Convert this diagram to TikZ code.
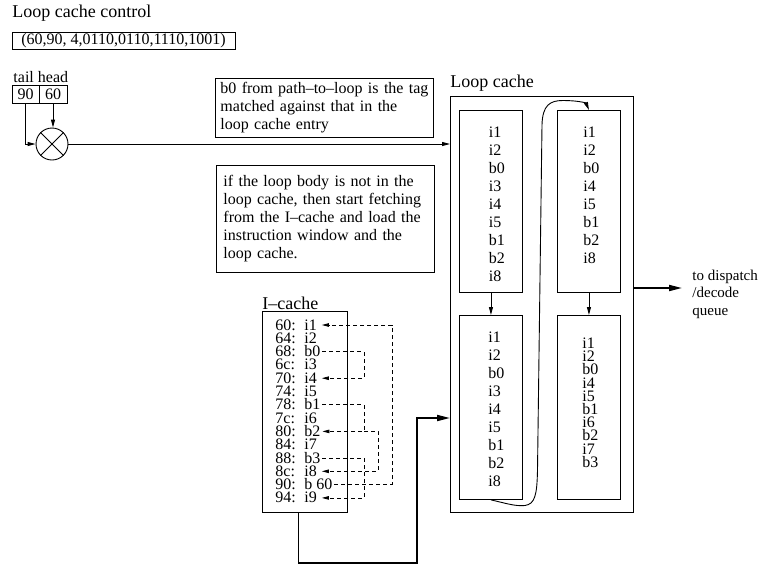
\documentclass[tikz,border=0pt]{standalone}
\usepackage{fontspec}
\setmainfont{Liberation Serif}
\usetikzlibrary{arrows.meta}

\begin{document}
\begin{tikzpicture}[x=1pt,y=-1pt,line width=.9pt,
    font=\fontsize{16}{18}\selectfont,
    lbl/.style={font=\fontsize{18}{20}\selectfont,anchor=west,inner sep=0},
    cell/.style={draw,inner sep=0},
    entry/.style={anchor=north west,align=left,inner sep=0},
    addr/.style={anchor=west,inner sep=0},
    row/.style={addr,text height=10pt,text depth=0pt},
    tip/.style={-{Triangle[length=8pt,width=4pt]}},
    jump/.style={dash pattern=on 4pt off 3pt,line width=.8pt,-{Triangle[length=7pt,width=3.5pt]}},
    bus/.style={line width=1.8pt,-{Triangle[length=13pt,width=6pt]}}]
  \useasboundingbox (0,0) rectangle (763,565);

  % loop cache control
  \node[lbl] (ctltxt) at (12,13) {Loop cache control};
  \node[cell,minimum width=223,minimum height=17] (ctl) at (123.5,40.5) {(60,90, 4,0110,0110,1110,1001)};

  % tail/head and comparator
  \node[addr] (th) at (13,77) {tail head};
  \node[cell,minimum width=27,minimum height=18] (tail) at (25.5,94) {90};
  \node[cell,minimum width=28,minimum height=18] (head) at (53,94) {60};
  \node[draw,circle,minimum size=32,inner sep=0] (cmp) at (52,144) {};
  \draw (cmp.north west) -- (cmp.south east) (cmp.north east) -- (cmp.south west);
  \draw[tip] (head.south) -- (head.south |- cmp.north);
  \draw[tip] (tail.south) |- (cmp.west);

  % notes
  \node[cell,anchor=north west,text width=208,inner xsep=5,minimum height=59,align=left] (note1) at (215,78)
    {b0 from path--to--loop is the tag\\ matched against that in the\\ loop cache entry};
  \node[cell,anchor=north west,text width=204,inner xsep=7,minimum height=107,align=left] (note2) at (216,165)
    {if the loop body is not in the\\ loop cache, then start fetching\\ from the I--cache and load the\\ instruction window and the\\ loop cache.};

  % loop cache
  \node[lbl] (lctxt) at (450,83) {Loop cache};
  \node[cell,anchor=north west,minimum width=183,minimum height=416] (lc) at (450,96) {};
  \node[cell,anchor=north west,minimum width=63,minimum height=182] (ul) at (459,110) {};
  \node[cell,anchor=north west,minimum width=63,minimum height=182] (ur) at (557,110) {};
  \node[cell,anchor=north west,minimum width=63,minimum height=184] (ll) at (459,315) {};
  \node[cell,anchor=north west,minimum width=63,minimum height=184] (lr) at (557,315) {};
  \node[entry] (ulbody) at ([xshift=-2.5,yshift=-16]ul.north) {i1\\i2\\b0\\i3\\i4\\i5\\b1\\b2\\i8};
  \node[entry] (urbody) at ([xshift=-6,yshift=-16]ur.north) {i1\\i2\\b0\\i4\\i5\\b1\\b2\\i8};
  \node[entry] (llbody) at ([xshift=-3,yshift=-16]ll.north) {i1\\i2\\b0\\i3\\i4\\i5\\b1\\b2\\i8};
  \node[entry,font=\fontsize{16}{13.2}\selectfont] (lrbody) at ([xshift=-7,yshift=-22.5]lr.north)
    {i1\\i2\\b0\\i4\\i5\\b1\\i6\\b2\\i7\\b3};
  \draw[tip] (ul.south) -- (ll.north);
  \draw[tip] (ur.south) -- (lr.north);
  \draw[tip] (ll.south) .. controls (505,503) and (515,506.5) .. (525,505.5)
    .. controls (535,504) and (537,495) .. (537.5,470) -- (542,125)
    .. controls (542.5,105) and (550,100.5) .. (563,100.5)
    .. controls (578,100.5) and (586,103) .. (ur.north);

  \draw[tip] (cmp.east) -- (cmp.east -| lc.west);

  % dispatch
  \node[addr,align=left,font=\fontsize{15}{17.5}\selectfont] (disp) at (692,294) {to dispatch\\/decode\\queue};
  \coordinate (dispend) at (682,288);
  \draw[bus] (dispend -| lc.east) -- (dispend);

  % I-cache
  \node[lbl] (ictxt) at (262,303) {I--cache};
  \node[cell,anchor=north west,minimum width=85,minimum height=201] (ic) at (262,311) {};
  \foreach \a/\b [count=\k from 0] in {60/i1,64/i2,68/b0,6c/i3,70/i4,74/i5,78/b1,
      7c/i6,80/b2,84/i7,88/b3,8c/i8,90/b 60,94/i9} {
    \node[row] (a\k) at (275,325+13.3*\k) {\a:};
    \node[row,inner xsep=1.5pt] (r\k) at (302.5,325+13.3*\k) {\b};
  }
  \coordinate (mid) at (364,0);
  \coordinate (outer) at (378,0);
  \coordinate (far) at (392,0);
  \draw[jump] (r12.east) -- (r12.east -| far) -- (r0.east -| far) -- ([xshift=3]r0.east);
  \draw[jump] (r2.east) -- (r2.east -| mid) -- (r4.east -| mid) -- ([xshift=3]r4.east);
  \draw[jump] (r6.east) -- (r6.east -| mid) -- (r8.east -| mid) -- (r8.east);
  \draw[jump] (r8.east -| mid) -- (r8.east -| outer) -- (r11.east -| outer) -- ([xshift=3]r11.east);
  \draw[jump] (r10.east) -- (r10.east -| mid) -- (r13.east -| mid) -- ([xshift=3]r13.east);

  % I-cache to loop cache
  \coordinate (busup) at (417,418);
  \draw[bus] ([xshift=-6.5]ic.south) -- ++(0,50) -| (busup) -- (busup -| lc.west);
\end{tikzpicture}
\end{document}
